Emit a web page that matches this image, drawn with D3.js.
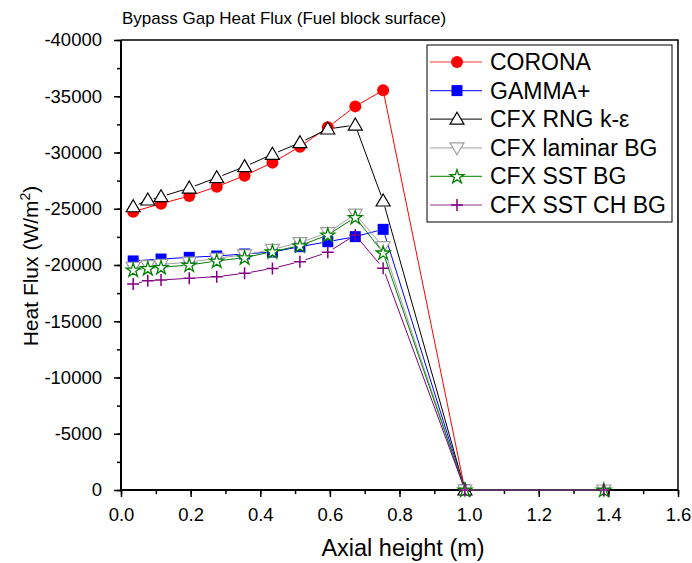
<!DOCTYPE html>
<html>
<head>
<meta charset="utf-8">
<script src="https://cdn.jsdelivr.net/npm/d3@7"></script>
<style>
  body { margin: 0; background: #fff; }
  text { font-family: "Liberation Sans", Arial, sans-serif; }
</style>
</head>
<body>
<svg id="chart" width="692" height="563"></svg>
<script>
// data
const seriesNames = ["CORONA", "GAMMA+", "CFX RNG k-\u03b5", "CFX laminar BG", "CFX SST BG", "CFX SST CH BG"];

const coronaX = [0.035, 0.115, 0.196, 0.275, 0.355, 0.435, 0.514, 0.594, 0.673, 0.753, 0.988];
const coronaY = [-24740, -25450, -26130, -26960, -27940, -29100, -30520, -32240, -34100, -35530, 0];

const gammaX = [0.035, 0.115, 0.196, 0.275, 0.355, 0.435, 0.514, 0.594, 0.673, 0.753, 0.988];
const gammaY = [-20360, -20530, -20680, -20800, -20980, -21150, -21630, -22070, -22520, -23170, 0];

const cfxX = [0.035, 0.077, 0.115, 0.196, 0.275, 0.355, 0.435, 0.514, 0.594, 0.673, 0.753, 0.988, 1.387];
const rngY = [-25180, -25780, -26070, -26840, -27760, -28740, -29840, -30870, -32090, -32440, -25690, 0];
const laminarY = [-19800, -19950, -20050, -20250, -20600, -20900, -21390, -21990, -22870, -24530, -21630, 0, 0];
const sstY = [-19560, -19700, -19790, -20000, -20360, -20650, -21190, -21720, -22670, -24240, -21090, 0, 0];
const sstChY = [-18310, -18600, -18670, -18820, -18960, -19260, -19700, -20300, -21130, -22670, -19710, 0, 0];

const xTicks = [0, 0.2, 0.4, 0.6, 0.8, 1.0, 1.2, 1.4, 1.6];
const yTicks = [0, -5000, -10000, -15000, -20000, -25000, -30000, -35000, -40000];

const series = [
    { name: seriesNames[0], xs: coronaX, ys: coronaY, color: "#ff0000", marker: "circle" },
    { name: seriesNames[1], xs: gammaX, ys: gammaY, color: "#0000ff", marker: "square" },
    { name: seriesNames[2], xs: cfxX, ys: rngY, color: "#000000", marker: "triUp" },
    { name: seriesNames[3], xs: cfxX, ys: laminarY, color: "#a0a0a0", marker: "triDown" },
    { name: seriesNames[4], xs: cfxX, ys: sstY, color: "#008000", marker: "star" },
    { name: seriesNames[5], xs: cfxX, ys: sstChY, color: "#800080", marker: "plus" }
];

var mLeft = 121, mRight = 678, mTop = 40, mBottom = 490;

var svg = d3.select("#chart");

var x = d3.scaleLinear().domain([0, 1.6]).range([mLeft, mRight]);
var y = d3.scaleLinear().domain([0, -40000]).range([mBottom, mTop]);

// title
svg.append("text")
    .attr("x", 122)
    .attr("y", 24)
    .attr("font-size", "17px")
    .text("Bypass Gap Heat Flux (Fuel block surface)");

// frame (top + right)
svg.append("path")
    .attr("d", `M${mLeft},${mTop}H${mRight}V${mBottom}`)
    .attr("fill", "none")
    .attr("stroke", "#000")
    .attr("stroke-width", 1.5);

// x axis
var xAxis = svg.append("g")
    .attr("transform", "translate(0," + mBottom + ")");
xAxis.append("g").call(d3.axisBottom(x).tickValues(d3.range(0, 1.61, 0.1)).tickSize(4).tickFormat(""));
xAxis.append("g").call(d3.axisBottom(x).tickValues(xTicks).tickSize(7).tickFormat(d3.format(".1f")).tickPadding(11));
xAxis.selectAll(".domain").remove();

var yAxis = svg.append("g")
    .attr("transform", "translate(" + mLeft + ",0)");
yAxis.append("g").call(d3.axisLeft(y).tickValues(d3.range(0, -40001, -2500)).tickSize(4).tickFormat(""));
yAxis.append("g").call(d3.axisLeft(y).tickValues(yTicks).tickSize(7).tickFormat(d => d === 0 ? "0" : String(d)).tickPadding(12));
yAxis.selectAll(".domain").remove();

svg.selectAll(".tick line").attr("stroke", "#000").attr("stroke-width", 1.5);
svg.selectAll(".tick text")
    .attr("font-size", "18.5px")
    .attr("font-family", "Liberation Sans, Arial, sans-serif")
    .attr("fill", "#000");

svg.append("line").attr("x1", mLeft).attr("x2", mRight).attr("y1", mBottom).attr("y2", mBottom)
    .attr("stroke", "#000").attr("stroke-width", 2);
svg.append("line").attr("x1", mLeft).attr("x2", mLeft).attr("y1", mTop).attr("y2", mBottom)
    .attr("stroke", "#000").attr("stroke-width", 2);

// axis titles
svg.append("text")
    .attr("x", 403)
    .attr("y", 556)
    .attr("text-anchor", "middle")
    .attr("font-size", "23.5px")
    .text("Axial height (m)");

var yl = svg.append("text")
    .attr("transform", "translate(38,266) rotate(-90)")
    .attr("text-anchor", "middle")
    .attr("font-size", "21px");
yl.append("tspan").text("Heat Flux (W/m");
yl.append("tspan").attr("font-size", "14px").attr("dy", -8).text("2");
yl.append("tspan").attr("dy", 8).text(")");

function drawMarker(g, type, color, cx, cy) {
    if (type === "circle") {
        g.append("circle").attr("cx", cx).attr("cy", cy).attr("r", 6).attr("fill", color);
    } else if (type === "square") {
        g.append("rect").attr("x", cx - 5.5).attr("y", cy - 5.5).attr("width", 11).attr("height", 11).attr("fill", color);
    } else if (type === "triUp") {
        g.append("path").attr("d", `M${cx},${cy - 7}L${cx + 7},${cy + 5}L${cx - 7},${cy + 5}Z`)
            .attr("fill", "#fff").attr("stroke", color).attr("stroke-width", 1.2);
    } else if (type === "triDown") {
        g.append("path").attr("d", `M${cx},${cy + 7}L${cx + 7},${cy - 5}L${cx - 7},${cy - 5}Z`)
            .attr("fill", "#fff").attr("stroke", color).attr("stroke-width", 1.2);
    } else if (type === "star") {
        g.append("path").attr("d", d3.symbol().type(d3.symbolStar).size(60)())
            .attr("transform", `translate(${cx},${cy + 0.5})`)
            .attr("fill", "#fff").attr("stroke", color).attr("stroke-width", 1.3);
    } else if (type === "plus") {
        g.append("path").attr("d", `M${cx - 6},${cy}H${cx + 6}M${cx},${cy - 6}V${cy + 6}`)
            .attr("stroke", color).attr("stroke-width", 1.5);
    }
}

var gap = 6;
var plot = svg.append("g");

series.forEach(s => {
    var g = plot.append("g");
    var pts = s.ys.map((v, i) => [x(s.xs[i]), y(v)]);
    for (var i = 0; i < pts.length - 1; i++) {
        var a = pts[i], b = pts[i + 1];
        var dx = b[0] - a[0], dy = b[1] - a[1];
        var len = Math.sqrt(dx * dx + dy * dy);
        if (len < 2 * gap) continue;
        var ux = dx / len, uy = dy / len;
        g.append("line")
            .attr("x1", a[0] + ux * gap).attr("y1", a[1] + uy * gap)
            .attr("x2", b[0] - ux * gap).attr("y2", b[1] - uy * gap)
            .attr("stroke", s.color).attr("stroke-width", 1);
    }
    pts.forEach(p => drawMarker(g, s.marker, s.color, p[0], p[1]));
});

// legend
var lg = svg.append("g");
lg.append("rect")
    .attr("x", 427).attr("y", 45).attr("width", 245).attr("height", 177)
    .attr("fill", "#fff").attr("stroke", "#000").attr("stroke-width", 1);

series.forEach((s, i) => {
    var cy = 62 + i * 28.6;
    lg.append("line").attr("x1", 430).attr("x2", 482).attr("y1", cy).attr("y2", cy)
        .attr("stroke", s.color).attr("stroke-width", 1.2).attr("opacity", 0.8);
    drawMarker(lg, s.marker, s.color, 457, cy);
    lg.append("text")
        .attr("x", 490).attr("y", cy + 8)
        .attr("font-size", "23px")
        .text(s.name);
});
</script>
</body>
</html>
